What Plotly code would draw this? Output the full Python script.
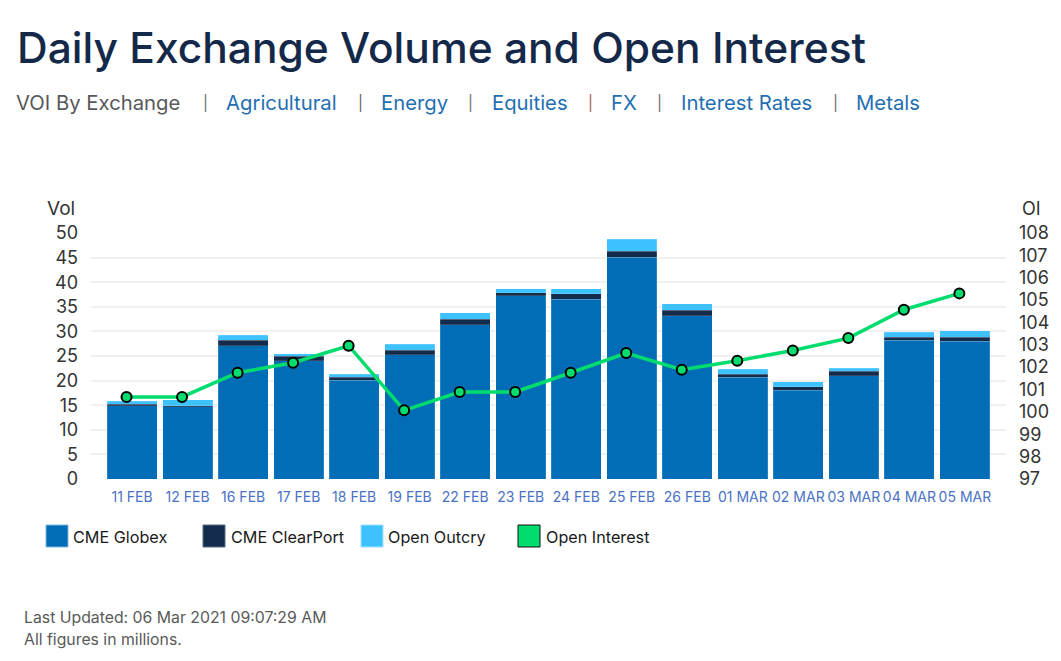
import plotly.graph_objects as go

# chart data, all figures in millions
dates = ["11 FEB", "12 FEB", "16 FEB", "17 FEB", "18 FEB", "19 FEB", "22 FEB", "23 FEB",
         "24 FEB", "25 FEB", "26 FEB", "01 MAR", "02 MAR", "03 MAR", "04 MAR", "05 MAR"]
globex = [14.85, 14.65, 27.1, 24.0, 20.1, 25.3, 31.4, 37.2,
          36.5, 45.05, 33.2, 20.7, 18.0, 21.0, 28.25, 28.0]
clearport = [0.35, 0.2, 1.15, 1.0, 0.6, 0.85, 1.1, 0.7,
             1.2, 1.25, 1.1, 0.6, 0.8, 0.9, 0.55, 0.8]
outcry = [0.6, 1.25, 0.95, 0.5, 0.6, 1.25, 1.3, 0.8,
          1.0, 2.4, 1.3, 1.0, 1.0, 0.6, 1.0, 1.35]
open_interest = [100.67, 100.67, 101.75, 102.2, 102.96, 100.07, 100.89, 100.89,
                 101.75, 102.63, 101.89, 102.29, 102.75, 103.3, 104.57, 105.3]
vol_ticks = [0, 5, 10, 15, 20, 25, 30, 35, 40, 45, 50]
oi_ticks = [97, 98, 99, 100, 101, 102, 103, 104, 105, 106, 107, 108]

# header nav: text, left edge in px, colour
nav_items = [("VOI By Exchange", 16, "#58595b"), ("Agricultural", 226, "#1f6fb2"),
             ("Energy", 381, "#1f6fb2"), ("Equities", 492, "#1f6fb2"),
             ("FX", 611, "#1f6fb2"), ("Interest Rates", 681, "#1f6fb2"),
             ("Metals", 856, "#1f6fb2")]
nav_pipes = [(203, "#6b6b6b"), (358, "#6b5a55"), (468, "#6b6b6b"), (588, "#a0594f"),
             (657, "#6b6b6b"), (833, "#6b6b6b")]

# legend swatches: label, swatch left, text left, fill, border
legend_items = [("CME Globex", 46, 73, "#006db6", "#7fb6db"),
                ("CME ClearPort", 203, 231, "#142c4c", "#5a6b82"),
                ("Open Outcry", 361, 388, "#3ec1ff", "#9fe0ff"),
                ("Open Interest", 518, 546, "#00dc6e", "#111111")]

W, H = 1061, 661
# plot area in page pixels
LEFT, RIGHT, TOP, BOTTOM = 91, 1006, 233, 479
FONT = "Inter"
BAR_EDGE = dict(color="rgba(255,255,255,0.3)", width=0.5)


def px_x(x):
    return (x - LEFT) / (RIGHT - LEFT)


def px_y(y):
    return (BOTTOM - y) / (BOTTOM - TOP)


def text(s, x, y, size, color, weight=None):
    # place a label by page pixel position
    return dict(text=s, x=px_x(x), y=px_y(y), xref="paper", yref="paper", xanchor="left",
                yanchor="middle", showarrow=False, xshift=-2,
                font=dict(family=FONT, size=size, color=color, weight=weight))


fig = go.Figure()
fig.add_bar(x=dates, y=globex, name="CME Globex", marker=dict(color="#006db6", line=BAR_EDGE))
fig.add_bar(x=dates, y=clearport, name="CME ClearPort", marker=dict(color="#142c4c", line=BAR_EDGE))
fig.add_bar(x=dates, y=outcry, name="Open Outcry", marker=dict(color="#3ec1ff", line=BAR_EDGE))
fig.add_scatter(x=dates, y=open_interest, name="Open Interest", mode="lines+markers",
                xaxis="x2", yaxis="y2", line=dict(color="#00dc6e", width=3.5),
                marker=dict(color="#00dc6e", size=10, line=dict(color="#000000", width=2)))

annotations = [text("Daily Exchange Volume and Open Interest", 17, 47, 42.5, "#14294a", weight=500),
               text("Vol", 47, 208, 19, "#333333"),
               text("OI", 1022, 208, 18, "#333333"),
               text("Last Updated: 06 Mar 2021 09:07:29 AM", 24, 617, 15.8, "#5a5a5a"),
               text("All figures in millions.", 24, 639, 15.8, "#5a5a5a")]
for label, left, color in nav_items:
    annotations.append(text(label, left, 103, 20.3, color))
for left, color in nav_pipes:
    annotations.append(text("|", left, 103, 15, color))

shapes = []
for label, sw_left, txt_left, fill, edge in legend_items:
    shapes.append(dict(type="rect", xref="paper", yref="paper", x0=px_x(sw_left), x1=px_x(sw_left + 22),
                       y0=px_y(547), y1=px_y(525), fillcolor=fill, line=dict(color=edge, width=1)))
    annotations.append(text(label, txt_left, 537, 16.2, "#1a1a1a"))

fig.update_layout(
    width=W, height=H,
    margin=dict(l=LEFT, r=W - RIGHT, t=TOP, b=H - BOTTOM, autoexpand=False),
    paper_bgcolor="white", plot_bgcolor="white",
    barmode="stack", bargap=0.1, showlegend=False,
    font=dict(family=FONT),
    annotations=annotations, shapes=shapes,
    xaxis=dict(type="category", range=[-0.74, 15.74], showgrid=False, zeroline=False, ticks="",
               showline=False, tickangle=0, ticklabelstandoff=8, tickfont=dict(size=14, color="#4a72c4")),
    # same categories, nudged so the line sits left of the bar centres like the original
    xaxis2=dict(type="category", range=[-0.64, 15.84], overlaying="x", visible=False),
    yaxis=dict(range=[0, 50], tickvals=vol_ticks, gridcolor="#f0f0f0", gridwidth=2, zeroline=False,
               ticks="", showline=False, ticklabelstandoff=12, tickfont=dict(size=18, color="#333333")),
    yaxis2=dict(range=[97, 108], tickvals=oi_ticks, overlaying="y", side="right", anchor="x",
                showgrid=False, zeroline=False, ticks="", showline=False, ticklabelstandoff=12,
                tickfont=dict(size=18, color="#333333")),
)

fig.write_html("out.html", config=dict(displayModeBar=False),
               post_script="document.body.style.margin='0';document.body.style.overflow='hidden';")
